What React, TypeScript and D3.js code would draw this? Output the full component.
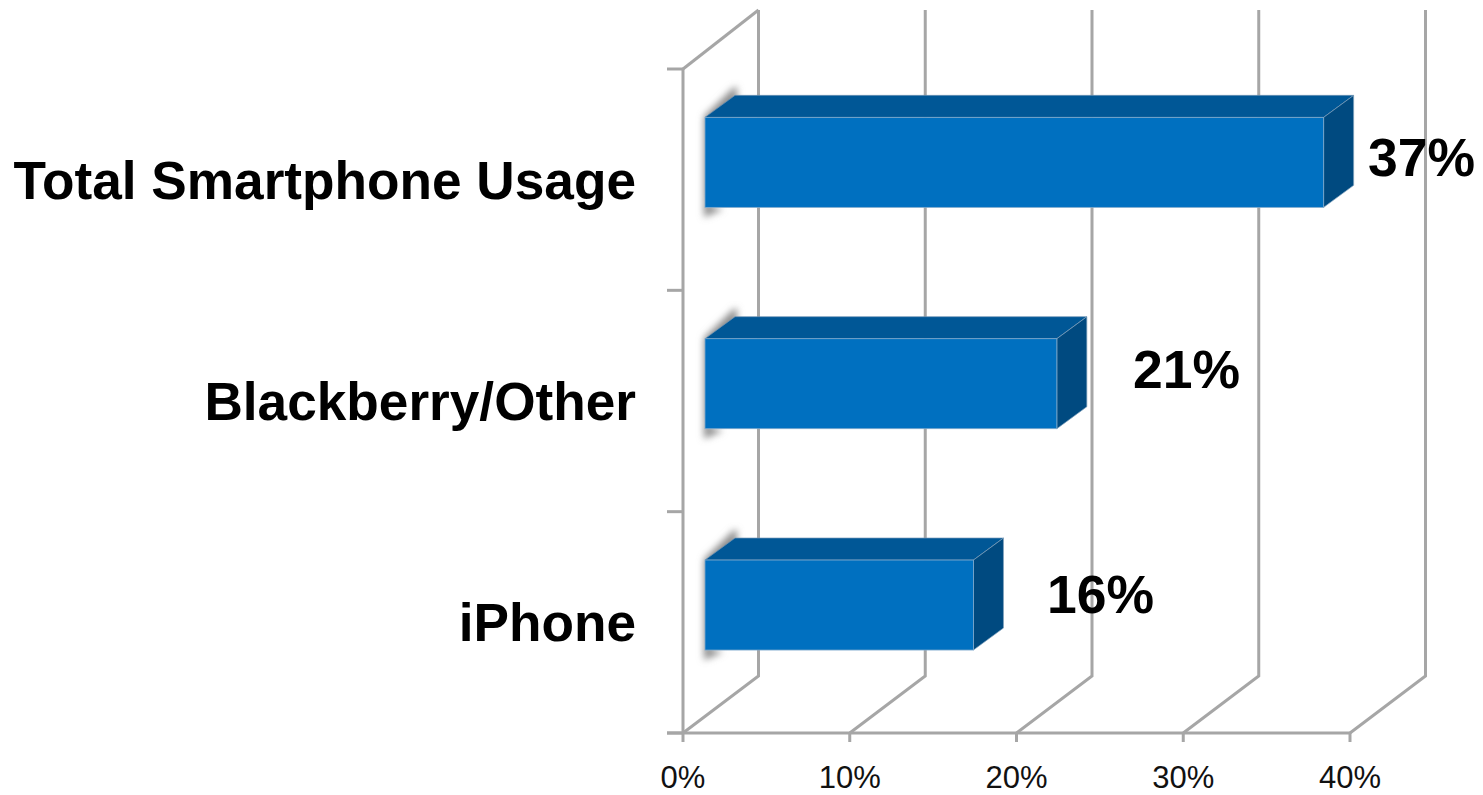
import React from "react";
import * as d3 from "d3";

const categories = ["Total Smartphone Usage", "Blackberry/Other", "iPhone"];
const values = [37.1, 21.1, 16.1];
const valueLabels = ["37%", "21%", "16%"];
const xTicks = [0, 10, 20, 30, 40];
const xTickLabels = ["0%", "10%", "20%", "30%", "40%"];

const W = 1483, H = 795;
const FONT = "'Liberation Sans', Arial, sans-serif";
const GRID = "#a6a6a6";
const x = d3.scaleLinear().domain([0, 40]).range([683, 1350]);
const y = d3.scaleBand<string>().domain(categories).range([69, 733]);
const depthX = 75.5, depthY = 57;
const barDX = 30, barDY = 22;
const inset = 22;
const barH = 90;
const labelDX = [1368, 1133, 1047];
const labelBase = [176, 388, 613];

export default function App() {
  const bw = y.bandwidth();
  const yTicks = [0, 1, 2, 3].map((i) => 69 + i * bw);
  const line = d3.line();
  return (
    <svg width={W} height={H} viewBox={`0 0 ${W} ${H}`} style={{ position: "absolute", left: 0, top: 0, display: "block", background: "#fff" }}>
      <defs>
        <filter id="sh" x="-50%" y="-50%" width="200%" height="200%">
          <feGaussianBlur stdDeviation="3.5" />
        </filter>
      </defs>
      <g fill="none" stroke={GRID} strokeWidth={3}>
        {xTicks.map((t) => (
          <path key={t} d={line([[x(t), 733], [x(t) + depthX, 733 - depthY], [x(t) + depthX, 10]]) as string} />
        ))}
        <path d={line([[x(0), 69], [x(0) + depthX, 10]]) as string} />
        <path d={line([[x(0), 69], [x(0), 733]]) as string} />
        <path d={line([[667, 733], [x(40), 733]]) as string} />
        {yTicks.map((t) => (
          <path key={t} d={line([[667, t], [x(0), t]]) as string} />
        ))}
        {xTicks.map((t) => (
          <path key={t} d={line([[x(t), 733], [x(t), 742]]) as string} />
        ))}
      </g>
      {categories.map((c, i) => {
        const top = (y(c) as number) + bw / 2 - 17.3 - barH / 2;
        const l = x(0) + inset;
        const r = l + (x(values[i]) - x(0));
        const bot = top + barH;
        const pts = (p: [number, number][]) => p.map((q) => q.join(",")).join(" ");
        return (
          <g key={c}>
            <polygon
              points={pts([[l - 1, top - 1], [l + barDX - 1, top - barDY - 8], [l + barDX + 2, top - barDY - 8], [l + barDX + 2, top - barDY + 4], [l + 4, bot - 2], [l + 18, bot + 2], [l - 1, bot + 10]])}
              fill="#8c8c8c"
              filter="url(#sh)"
            />
            <polygon points={pts([[l, top], [l + barDX, top - barDY], [r + barDX, top - barDY], [r, top]])} fill="#005796" stroke="#6f94b5" strokeWidth={0.7} />
            <polygon points={pts([[r, top], [r + barDX, top - barDY], [r + barDX, bot - barDY], [r, bot]])} fill="#004a80" stroke="#7fa0bb" strokeWidth={0.7} />
            <rect x={l} y={top} width={r - l} height={barH} fill="#0070c0" stroke="#7fa9cc" strokeWidth={0.8} />
          </g>
        );
      })}
      <g fontFamily={FONT} fontWeight="bold" fill="#000">
        {categories.map((c) => (
          <text key={c} x={636} y={(y(c) as number) + bw / 2 + 19} textAnchor="end" fontSize={53.2}>{c}</text>
        ))}
        {valueLabels.map((v, i) => (
          <text key={v} x={labelDX[i]} y={labelBase[i]} fontSize={53.5}>{v}</text>
        ))}
      </g>
      <g fontFamily={FONT} fill="#111" fontSize={31} textAnchor="middle">
        {xTicks.map((t, i) => (
          <text key={t} x={x(t)} y={788}>{xTickLabels[i]}</text>
        ))}
      </g>
    </svg>
  );
}
